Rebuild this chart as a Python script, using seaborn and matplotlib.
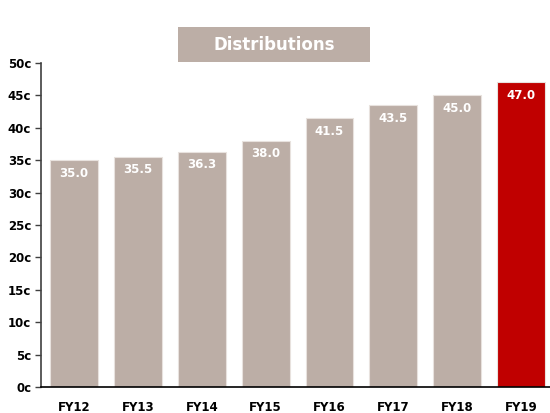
import matplotlib
matplotlib.use("Agg")
import matplotlib.pyplot as plt
import matplotlib.patches as mpatches
import seaborn as sns
import pandas as pd

categories = ["FY12", "FY13", "FY14", "FY15", "FY16", "FY17", "FY18", "FY19"]
values = [35.0, 35.5, 36.3, 38.0, 41.5, 43.5, 45.0, 47.0]
yticks = [0, 5, 10, 15, 20, 25, 30, 35, 40, 45, 50]
title = "Distributions"

grey = "#BCAEA6"
red = "#C00000"
colors = [grey] * 7 + [red]

sns.set_style("white")
plt.rcParams['font.family'] = ['DejaVu Sans']

fig = plt.figure(figsize=(5.5, 4.13), dpi=100)
ax = fig.add_axes([0.0745, 0.063, 0.925, 0.7845])

df = pd.DataFrame({"cat": categories, "val": values})
sns.barplot(data=df, x="cat", y="val", hue="cat", palette=colors, legend=False,
            width=0.75, ax=ax, edgecolor="#E8E2DE", linewidth=0.8, saturation=1)

for i, v in enumerate(values):
    ax.text(i, v - 1.0, f"{v:.1f}", ha="center", va="top", color="white",
            fontsize=8.5, fontweight="bold")

ax.set_ylim(0, 50)
ax.set_xlim(-0.52, 7.45)
ax.set_yticks(yticks)
ax.set_yticklabels([f"{t}c" for t in yticks], fontsize=8.5, fontweight="bold", color="black")
ax.set_xticklabels(categories, fontsize=8.5, fontweight="bold", color="black")
ax.tick_params(axis="x", length=0, pad=10)
ax.tick_params(axis="y", length=4, width=1, direction="out", left=True, pad=3, color="#404040")
ax.set_xlabel("")
ax.set_ylabel("")
for s in ["top", "right"]:
    ax.spines[s].set_visible(False)
ax.spines["left"].set_color("#404040")
ax.spines["bottom"].set_color("black")
ax.spines["left"].set_linewidth(1.2)
ax.spines["bottom"].set_linewidth(1.2)

# title box
x0, y0, w, h = 178 / 550, 1 - 62 / 413, 192 / 550, 35 / 413
fig.patches.append(mpatches.Rectangle((x0, y0), w, h, transform=fig.transFigure,
                                      facecolor=grey, edgecolor="none"))
fig.text(x0 + w / 2, y0 + h / 2, title, ha="center", va="center", color="white",
         fontsize=12, fontweight="bold")

fig.savefig("out.png", dpi=100)
